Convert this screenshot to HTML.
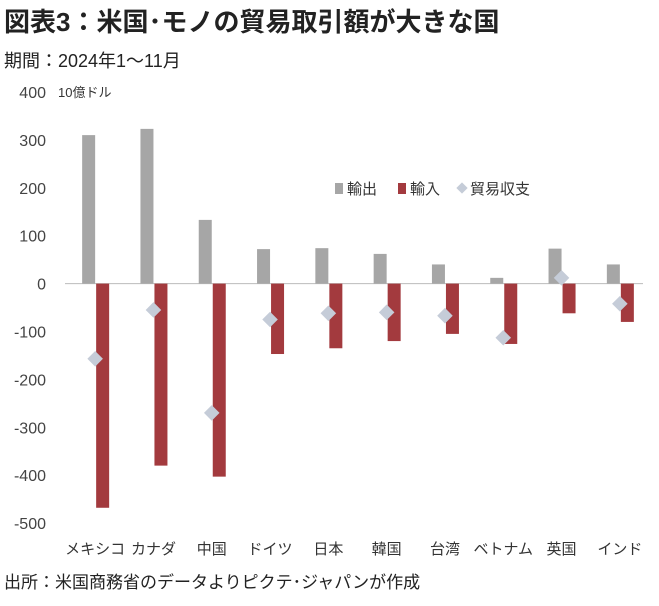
<!DOCTYPE html>
<html><head><meta charset="utf-8"><style>
body{margin:0;background:#fff;width:659px;height:606px;overflow:hidden;font-family:"Liberation Sans","Noto Sans CJK JP",sans-serif;}
svg{position:absolute;left:0;top:0}
</style></head><body>
<svg width="659" height="606" font-family="Liberation Sans, Noto Sans CJK JP, sans-serif">
<text x="4" y="31" font-size="26" font-weight="bold" fill="#222">図表3：米国･モノの貿易取引額が大きな国</text>
<text x="4" y="67" font-size="18" fill="#222">期間：2024年1～11月</text>
<text x="58" y="97" font-size="13" fill="#333">10億ドル</text>
<g id="axis"></g><g id="bars"></g>
<g>
<rect x="335" y="183" width="8" height="11" fill="#a6a6a6"/>
<text x="347" y="194" font-size="15" fill="#333">輸出</text>
<rect x="398" y="183" width="8" height="11" fill="#a33a3e"/>
<text x="410" y="194" font-size="15" fill="#333">輸入</text>
<rect x="458" y="184" width="8" height="8" fill="#c5ccd8" transform="rotate(45 462 188)"/>
<text x="470" y="194" font-size="15" fill="#333">貿易収支</text>
</g>
<text x="4" y="588" font-size="17" fill="#222">出所：米国商務省のデータよりピクテ･ジャパンが作成</text>
</svg>
<script>
const categories=["メキシコ","カナダ","中国","ドイツ","日本","韓国","台湾","ベトナム","英国","インド"];
const exportsV=[310,323,133,72,74,62,40,12,73,40];
const importsV=[-468,-380,-403,-147,-135,-120,-105,-126,-62,-80];
const balanceV=[-157,-55,-270,-75,-62,-60,-67,-113,12,-42];
const yTicks=[400,300,200,100,0,-100,-200,-300,-400,-500];
const NS="http://www.w3.org/2000/svg";
const y=v=>283.6-v*0.479;
const x0=66,bw=58.3;
const cx=i=>x0+bw*(i+0.5);
function mk(t,a,p){const e=document.createElementNS(NS,t);for(const k in a)e.setAttribute(k,a[k]);p.appendChild(e);return e;}
const ax=document.getElementById('axis'),bg=document.getElementById('bars');
yTicks.forEach(v=>{const t=mk('text',{x:46,y:y(v)+6,'font-size':16,fill:'#444','text-anchor':'end'},ax);t.textContent=v;

});
const zl=mk('line',{x1:65,x2:643,y1:y(0),y2:y(0),stroke:'#bbb','stroke-width':1},ax);


categories.forEach((c,i)=>{
 const t=mk('text',{x:cx(i),y:554,'font-size':15,fill:'#333','text-anchor':'middle'},ax);t.textContent=c;
 
 
 const e=exportsV[i];
 const r1=mk('rect',{x:cx(i)-13,width:13,y:Math.min(y(e),y(0)),height:Math.abs(y(e)-y(0)),fill:'#a6a6a6'},bg);
 
 
 const m=importsV[i];
 const r2=mk('rect',{x:cx(i)+1,width:13,y:Math.min(y(m),y(0)),height:Math.abs(y(m)-y(0)),fill:'#a33a3e'},bg);
 
 
 const by=y(balanceV[i]);
 const d=mk('rect',{x:cx(i)-5.5,y:by-5.5,width:11,height:11,fill:'#c5ccd8',transform:`rotate(45 ${cx(i)} ${by})`},bg);
 
 
});
</script>
</body></html>
